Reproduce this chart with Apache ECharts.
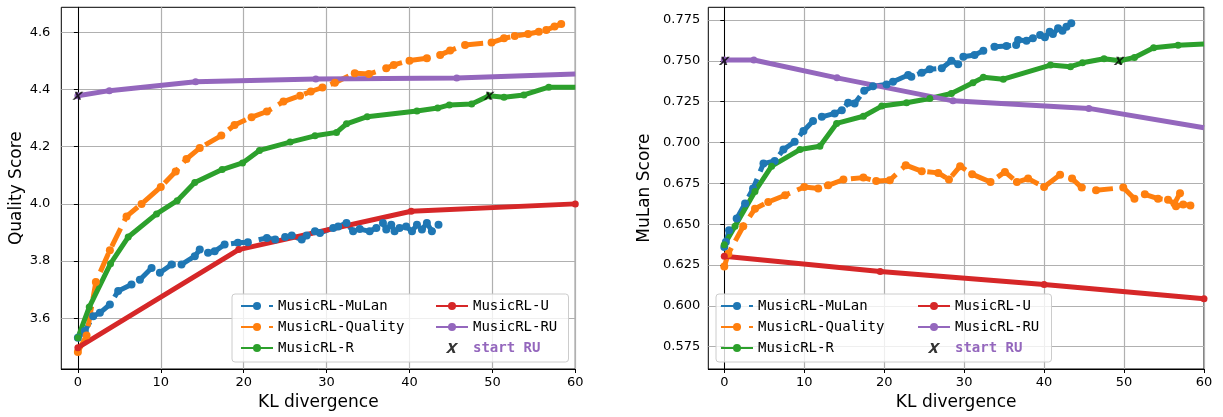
<!DOCTYPE html>
<html>
<head>
<meta charset="utf-8">
<script src="https://cdn.jsdelivr.net/npm/echarts@6/dist/echarts.min.js"></script>
<style>html,body{margin:0;padding:0;background:#fff}#c{width:1223px;height:417px}</style>
</head>
<body>
<div id="c"></div>
<script>
// ---------- DATA ----------
const xTicks = [0, 10, 20, 30, 40, 50, 60];
const leftYTicks = [3.6, 3.8, 4.0, 4.2, 4.4, 4.6];
const rightYTicks = [0.575, 0.600, 0.625, 0.650, 0.675, 0.700, 0.725, 0.750, 0.775];
const seriesNames = ['MusicRL-MuLan', 'MusicRL-Quality', 'MusicRL-R', 'MusicRL-U', 'MusicRL-RU', 'start RU'];

const leftMuLan = [[0,3.532],[0.84,3.555],[1.85,3.607],[2.65,3.619],[3.86,3.648],[4.86,3.695],[6.47,3.718],[7.48,3.735],[8.89,3.776],[9.89,3.759],[11.3,3.788],[12.5,3.788],[14.1,3.817],[14.7,3.84],[15.7,3.829],[16.5,3.834],[17.7,3.858],[19.3,3.864],[20.5,3.866],[22.8,3.881],[23.8,3.875],[25.0,3.884],[25.8,3.889],[27.0,3.875],[27.6,3.889],[28.6,3.904],[29.2,3.898],[30.8,3.916],[31.4,3.921],[32.4,3.933],[33.2,3.904],[34.0,3.912],[35.2,3.904],[36.0,3.916],[36.8,3.933],[37.2,3.91],[37.8,3.927],[38.2,3.904],[38.8,3.916],[39.6,3.921],[40.3,3.904],[40.9,3.927],[41.5,3.91],[42.1,3.933],[42.7,3.904],[43.5,3.927]];
const leftQuality = [[0,3.482],[1.05,3.54],[2.17,3.727],[3.86,3.838],[5.87,3.956],[7.68,4.0],[10.0,4.059],[11.8,4.113],[13.1,4.157],[14.7,4.195],[17.3,4.239],[18.9,4.276],[20.95,4.303],[22.8,4.323],[24.8,4.358],[26.8,4.378],[28.1,4.393],[29.5,4.407],[31.0,4.424],[33.4,4.457],[35.1,4.454],[37.2,4.474],[38.1,4.486],[40.0,4.501],[42.1,4.509],[43.7,4.521],[44.9,4.536],[46.7,4.556],[49.9,4.564],[51.4,4.579],[52.7,4.587],[54.3,4.594],[55.6,4.602],[56.5,4.608],[57.5,4.62],[58.3,4.629]];
const leftR = [[0,3.532],[1.37,3.639],[3.94,3.791],[6.07,3.884],[9.49,3.965],[11.98,4.011],[14.1,4.075],[17.4,4.12],[19.86,4.143],[21.9,4.187],[25.6,4.216],[28.6,4.238],[31.2,4.25],[32.4,4.28],[34.9,4.305],[40.9,4.325],[43.4,4.335],[44.8,4.346],[47.5,4.349],[49.6,4.378],[51.4,4.373],[53.8,4.381],[56.8,4.408],[60,4.408]];
const leftU = [[0,3.497],[19.4,3.84],[40.2,3.974],[60,4.0]];
const leftRU = [[0,4.378],[3.8,4.396],[14.2,4.427],[28.7,4.437],[45.7,4.44],[60,4.454]];
const leftStart = [[0,4.378],[49.6,4.378]];

const rightMuLan = [[0,0.636],[0.2,0.639],[0.6,0.6462],[1.55,0.6534],[2.6,0.6626],[3.6,0.6718],[4.9,0.6871],[6.3,0.6887],[7.4,0.6957],[8.8,0.7004],[9.9,0.7071],[11.1,0.7131],[12.2,0.7157],[13.8,0.7178],[14.7,0.7198],[15.5,0.7243],[16.3,0.7239],[17.5,0.7317],[18.6,0.7345],[20.3,0.7355],[21.1,0.7372],[23.0,0.7413],[23.4,0.7403],[24.7,0.7427],[25.7,0.7448],[27.2,0.7454],[28.4,0.7501],[29.25,0.748],[29.9,0.7525],[31.3,0.7536],[32.4,0.7562],[33.8,0.7587],[35.3,0.7591],[36.5,0.7597],[36.75,0.7628],[37.8,0.7623],[38.6,0.7638],[39.5,0.7658],[40.1,0.7644],[40.7,0.7679],[41.1,0.7664],[41.75,0.7699],[42.3,0.7685],[42.8,0.7709],[43.4,0.773]];
const rightQuality = [[0,0.6241],[0.5,0.6319],[2.37,0.6487],[3.84,0.6595],[5.5,0.6636],[7.6,0.6677],[10.0,0.6728],[11.75,0.6718],[13.0,0.6738],[14.9,0.6773],[17.4,0.6785],[19.0,0.6764],[20.7,0.6769],[22.7,0.6861],[24.7,0.6824],[26.75,0.6814],[28.1,0.6773],[29.5,0.6855],[31.0,0.6806],[33.3,0.6758],[35.1,0.682],[36.6,0.6758],[38.0,0.6779],[40.0,0.6728],[42.0,0.6803],[43.5,0.6779],[44.7,0.6724],[46.5,0.6707],[49.9,0.6724],[51.3,0.6656],[52.6,0.6683],[54.25,0.6656],[55.5,0.665],[56.3,0.6626],[57.0,0.669],[56.5,0.661],[57.4,0.6621],[58.3,0.6615]];
const rightR = [[0,0.6374],[1.34,0.6487],[3.84,0.670],[5.92,0.6855],[9.46,0.6957],[11.96,0.6977],[14.05,0.7117],[17.4,0.7161],[19.7,0.7223],[22.8,0.7243],[25.7,0.727],[28.4,0.730],[31.1,0.7366],[32.4,0.7399],[34.9,0.7388],[40.8,0.7474],[43.3,0.7464],[44.8,0.7488],[47.5,0.7513],[49.5,0.7501],[51.3,0.7521],[53.7,0.758],[56.75,0.7595],[60,0.7603]];
const rightU = [[0,0.6304],[19.5,0.621],[40.0,0.613],[60,0.6043]];
const rightRU = [[0,0.7505],[3.7,0.7505],[14.1,0.7396],[28.6,0.7255],[45.6,0.7209],[60,0.709]];
const rightStart = [[0,0.750],[49.4,0.750]];

// ---------- STYLE ----------
const C = {blue:'#1f77b4', orange:'#ff7f0e', green:'#2ca02c', red:'#d62728', purple:'#9467bd'};
const xMarker = 'path://M3,0 L6,0 L7.3,3.6 L10.6,0 L13.6,0 L8.4,5.6 L10.6,11 L7.6,11 L6.3,7.4 L3,11 L0,11 L5.2,5.4 Z';
const tickFont = {fontFamily:'DejaVu Sans', fontSize:13, color:'#000'};

function lineSeries(name, data, color, idx, dashed, clipEnd) {
  return {
    type:'line', name, data, xAxisIndex:idx, yAxisIndex:idx,
    color,
    symbol: clipEnd ? (v => v[0] >= 60 ? 'none' : 'circle') : 'circle',
    symbolSize: dashed ? 8 : 7,
    showSymbol:true,
    lineStyle:{width:5, color, type: dashed ? [20, 8] : 'solid', cap:'butt'},
    itemStyle:{color, borderWidth:0},
    clip:true, animation:false, z: 2
  };
}
function startSeries(data, idx) {
  return {type:'scatter', name:'start RU', data, xAxisIndex:idx, yAxisIndex:idx,
    symbol:xMarker, symbolSize:[11,10], symbolKeepAspect:true,
    itemStyle:{color:'#000'}, z:5, animation:false};
}
function xAxis(idx) {
  return {type:'value', gridIndex:idx, min:-2, max:60,
    minInterval:10, maxInterval:10,
    name:'KL divergence', nameLocation:'middle', nameGap:25,
    nameTextStyle:{fontFamily:'DejaVu Sans', fontSize:17, color:'#000'},
    axisLine:{show:true, lineStyle:{color:'#000', width:1}},
    axisTick:{show:true, length:4, lineStyle:{color:'#000'}, customValues: xTicks},
    axisLabel:{...tickFont, margin:7, customValues: xTicks, formatter: v => String(v)},
    splitLine:{show:true, lineStyle:{color:'#b0b0b0', width:1.2}}};
}
function yAxis(idx, min, max, step, ticks, digits, name, gap, margin) {
  return {type:'value', gridIndex:idx, min, max, minInterval:step, maxInterval:step,
    name, nameLocation:'middle', nameGap:gap,
    nameTextStyle:{fontFamily:'DejaVu Sans', fontSize:17, color:'#000'},
    axisLine:{show:true, lineStyle:{color:'#000', width:1}},
    axisTick:{show:true, length:4, lineStyle:{color:'#000'}, customValues: ticks},
    axisLabel:{...tickFont, margin, customValues: ticks, formatter: v => Number(v).toFixed(digits)},
    splitLine:{show:true, lineStyle:{color:'#b0b0b0', width:1.2}}};
}
function legend(left, top, names) {
  return {orient:'vertical', left, top, padding:0, itemGap:7, itemWidth:32, itemHeight:10,
    selectedMode:false,
    textStyle:{fontFamily:'DejaVu Sans Mono', fontSize:14, color:'#000'},
    data: names.map(n => n === 'start RU'
      ? {name:n, textStyle:{color:C.purple, fontWeight:'bold'}}
      : {name:n})};
}

const chart = echarts.init(document.getElementById('c'), null, {renderer:'canvas'});
chart.setOption({
  animation:false,
  backgroundColor:'#fff',
  grid:[
    {left:61.3, top:7.3, width:514, height:361.7, show:true, borderColor:'#000', borderWidth:1, backgroundColor:'transparent'},
    {left:708.3, top:7.3, width:495.7, height:361.7, show:true, borderColor:'#000', borderWidth:1, backgroundColor:'transparent'}
  ],
  xAxis:[xAxis(0), xAxis(1)],
  yAxis:[
    yAxis(0, 3.4225, 4.6875, 0.2, leftYTicks, 1, 'Quality Score', 36, 11),
    yAxis(1, 0.5613, 0.7828, 0.025, rightYTicks, 3, 'MuLan Score', 55, 8)
  ],
  legend:[
    legend(240, 299, seriesNames.slice(0,3)),
    legend(435, 299, seriesNames.slice(3)),
    legend(720, 299, seriesNames.slice(0,3)),
    legend(917, 299, seriesNames.slice(3))
  ],
  graphic:[
    {type:'rect', z:3, shape:{x:232, y:294, width:336.5, height:68, r:3}, style:{fill:'rgba(255,255,255,0.8)', stroke:'#cccccc', lineWidth:1}},
    {type:'rect', z:3, shape:{x:716, y:294, width:335.5, height:68, r:3}, style:{fill:'rgba(255,255,255,0.8)', stroke:'#cccccc', lineWidth:1}}
  ],
  series:[
    lineSeries(seriesNames[0], leftMuLan, C.blue, 0, true, false),
    lineSeries(seriesNames[1], leftQuality, C.orange, 0, true, false),
    lineSeries(seriesNames[2], leftR, C.green, 0, false, true),
    lineSeries(seriesNames[3], leftU, C.red, 0, false, false),
    lineSeries(seriesNames[4], leftRU, C.purple, 0, false, true),
    startSeries(leftStart, 0),
    lineSeries(seriesNames[0], rightMuLan, C.blue, 1, true, false),
    lineSeries(seriesNames[1], rightQuality, C.orange, 1, true, false),
    lineSeries(seriesNames[2], rightR, C.green, 1, false, true),
    lineSeries(seriesNames[3], rightU, C.red, 1, false, false),
    lineSeries(seriesNames[4], rightRU, C.purple, 1, false, true),
    startSeries(rightStart, 1)
  ]
});
</script>
</body>
</html>
